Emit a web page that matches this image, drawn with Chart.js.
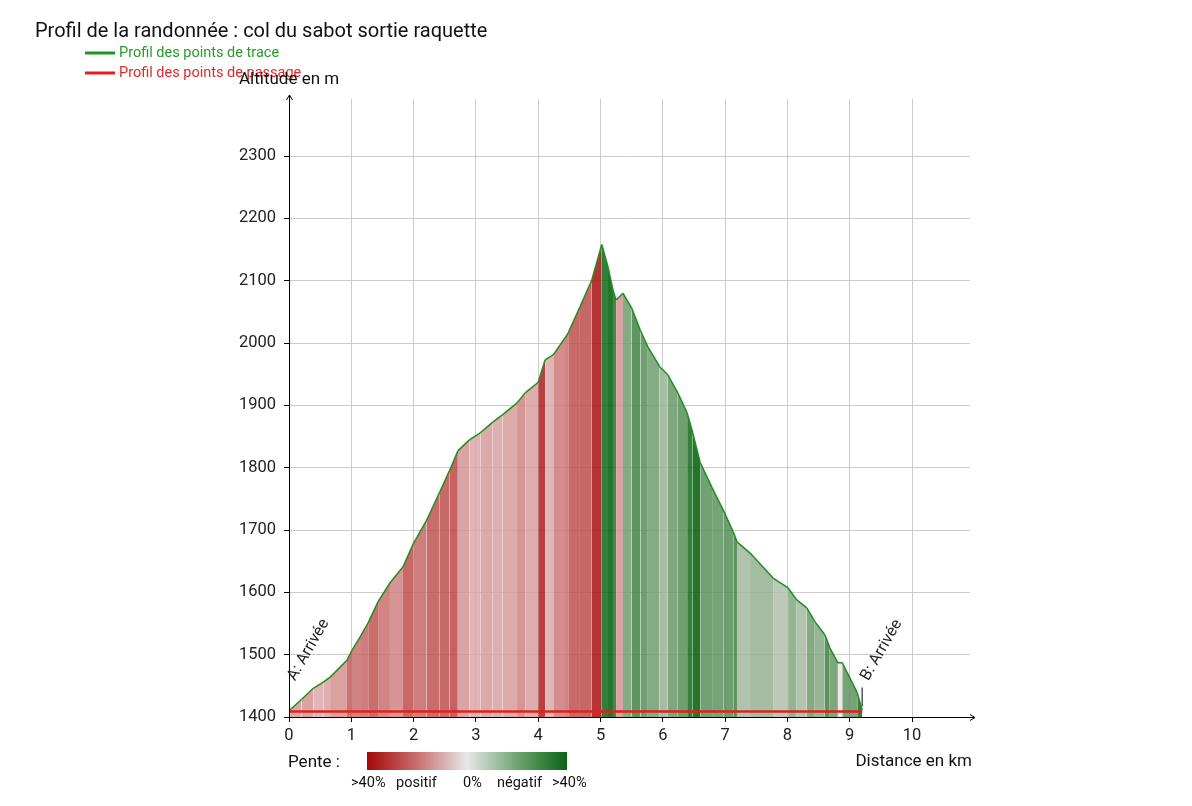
<!DOCTYPE html>
<html><head><meta charset="utf-8">
<script src="https://cdn.jsdelivr.net/npm/chart.js@4.4.1/dist/chart.umd.min.js"></script>
<style>html,body{margin:0;padding:0;background:#fff;overflow:hidden}</style>
</head><body>
<canvas id="c" width="1192" height="806"></canvas>
<script>
const chartTitle = "Profil de la randonnée : col du sabot sortie raquette";
const seriesNames = ["Profil des points de trace", "Profil des points de passage"];
const xAxisTitle = "Distance en km";
const yAxisTitle = "Altitude en m";
const slopeTitle = "Pente :";
const slopeLegend = [">40%", "positif", "0%", "négatif", ">40%"];

// Track profile (distance km, altitude m)
const traceKm  = [0, 0.2, 0.39, 0.55, 0.66, 0.82, 0.93, 1.01, 1.14, 1.27, 1.43, 1.62, 1.83, 2.0, 2.21, 2.42, 2.58, 2.71, 2.9, 3.07, 3.27, 3.43, 3.66, 3.79, 4.0, 4.11, 4.24, 4.43, 4.48, 4.67, 4.86, 5.02, 5.12, 5.2, 5.25, 5.36, 5.5, 5.64, 5.76, 5.95, 6.08, 6.24, 6.39, 6.48, 6.6, 6.79, 6.97, 7.13, 7.19, 7.4, 7.77, 8.01, 8.15, 8.31, 8.44, 8.6, 8.68, 8.81, 8.88, 9.12, 9.2];
const traceAlt = [1410, 1428, 1446, 1456, 1464, 1480, 1491, 1507, 1528, 1551, 1585, 1615, 1641, 1679, 1716, 1761, 1796, 1827, 1845, 1856, 1873, 1885, 1904, 1920, 1937, 1973, 1981, 2008, 2016, 2058, 2101, 2158, 2122, 2085, 2069, 2080, 2056, 2020, 1994, 1962, 1949, 1920, 1888, 1856, 1808, 1768, 1732, 1697, 1681, 1663, 1623, 1607, 1588, 1575, 1553, 1532, 1511, 1487, 1487, 1439, 1411];

// Waypoints (passage points)
const waypointNames = ["A: Arrivée", "B: Arrivée"];
const waypointKm  = [0, 9.2];
const waypointAlt = [1409, 1409];

const xTicks = [0, 1, 2, 3, 4, 5, 6, 7, 8, 9, 10];
const yTicks = [1400, 1500, 1600, 1700, 1800, 1900, 2000, 2100, 2200, 2300];
const xMax = 10.93, yMin = 1400, yMax = 2391.5;

const FONT = "Roboto";

function slopeColor(s) {
  const t = Math.pow(Math.min(Math.abs(s) / 40, 1), 0.75);
  const light = [238, 226, 226];
  const end = s >= 0 ? [165, 0, 0] : [0, 95, 10];
  const c = light.map((v, i) => Math.round(v + (end[i] - v) * t));
  return `rgba(${c[0]},${c[1]},${c[2]},0.86)`;
}

const deco = {
  id: 'deco',
  afterDatasetsDraw(chart) {
    const { ctx, chartArea: a, scales: { x, y } } = chart;
    ctx.save();
    ctx.strokeStyle = '#000';
    ctx.lineWidth = 1;
    const ax = Math.round(a.left) + 0.5, ay = Math.round(a.bottom) + 0.5;
    ctx.beginPath();
    ctx.moveTo(ax, ay); ctx.lineTo(ax, a.top - 4);
    ctx.moveTo(ax - 3, a.top + 1); ctx.lineTo(ax, a.top - 4); ctx.lineTo(ax + 3, a.top + 1);
    ctx.moveTo(ax, ay); ctx.lineTo(a.right + 5, ay);
    ctx.moveTo(a.right, ay - 3); ctx.lineTo(a.right + 5, ay); ctx.lineTo(a.right, ay + 3);
    ctx.stroke();

    // waypoint markers and labels
    ctx.fillStyle = '#222';
    ctx.font = `16px ${FONT}`;
    ctx.textAlign = 'left';
    ctx.textBaseline = 'alphabetic';
    waypointNames.forEach((name, i) => {
      const px = x.getPixelForValue(waypointKm[i]);
      const py = y.getPixelForValue(waypointAlt[i]);
      if (i > 0) {
        ctx.strokeStyle = '#555';
        ctx.lineWidth = 1.5;
        ctx.beginPath();
        ctx.moveTo(px, py - 5); ctx.lineTo(px, py - 24);
        ctx.stroke();
      }
      ctx.save();
      ctx.translate(px + 6, py - 30);
      ctx.rotate(-Math.PI / 3);
      ctx.fillText(name, 0, 0);
      ctx.restore();
    });
    ctx.restore();
  },
  afterDraw(chart) {
    const { ctx } = chart;
    ctx.save();
    ctx.textAlign = 'left';
    ctx.textBaseline = 'alphabetic';
    ctx.fillStyle = '#111';
    ctx.font = `20px ${FONT}`;
    ctx.fillText(chartTitle, 35, 37);

    // legend
    const legCols = ['#1f961f', '#e0201c'];
    const legText = ['#2a9a2a', '#e02a2a'];
    [53, 73].forEach((ly, i) => {
      ctx.strokeStyle = legCols[i];
      ctx.lineWidth = 3;
      ctx.beginPath(); ctx.moveTo(85, ly); ctx.lineTo(115, ly); ctx.stroke();
      ctx.fillStyle = legText[i];
      ctx.font = `14.5px ${FONT}`;
      ctx.fillText(seriesNames[i], 119, ly + 4);
    });

    ctx.fillStyle = '#111';
    ctx.font = `17px ${FONT}`;
    ctx.fillText(yAxisTitle, 239, 84);
    ctx.textAlign = 'right';
    ctx.fillText(xAxisTitle, 972, 766);
    ctx.textAlign = 'left';
    ctx.fillText(slopeTitle, 288, 767);

    // slope gradient bar
    const g = ctx.createLinearGradient(367, 0, 567, 0);
    g.addColorStop(0, 'rgb(165,8,8)');
    g.addColorStop(0.25, 'rgb(200,110,110)');
    g.addColorStop(0.5, 'rgb(232,232,232)');
    g.addColorStop(0.75, 'rgb(110,165,112)');
    g.addColorStop(1, 'rgb(8,100,20)');
    ctx.fillStyle = g;
    ctx.fillRect(367, 752, 200, 18);

    ctx.fillStyle = '#111';
    ctx.font = `14.5px ${FONT}`;
    const lx = [351, 396, 463, 497, 552];
    slopeLegend.forEach((t, i) => ctx.fillText(t, lx[i], 787));
    ctx.restore();
  }
};

new Chart(document.getElementById('c'), {
  type: 'line',
  data: {
    datasets: [
      {
        label: seriesNames[1],
        data: waypointKm.map((k, i) => ({ x: k, y: waypointAlt[i] })),
        borderColor: '#e0201c',
        borderWidth: 2.5,
        pointRadius: 0,
        fill: false,
        order: 1
      },
      {
        label: seriesNames[0],
        data: traceKm.map((k, i) => ({ x: k, y: traceAlt[i] })),
        borderColor: '#1f8f1f',
        borderWidth: 1.5,
        pointRadius: 0,
        tension: 0,
        fill: 'start',
        backgroundColor: 'rgba(230,200,200,0.8)',
        segment: {
          backgroundColor: c => {
            const dx = (c.p1.parsed.x - c.p0.parsed.x) * 1000;
            const dy = c.p1.parsed.y - c.p0.parsed.y;
            return slopeColor(dx > 0 ? dy / dx * 100 : 0);
          }
        },
        order: 2
      }
    ]
  },
  options: {
    responsive: false,
    animation: false,
    events: [],
    layout: { padding: { left: 0, right: 222, top: 99, bottom: 0 } },
    plugins: { legend: { display: false }, tooltip: { enabled: false }, title: { display: false } },
    scales: {
      x: {
        type: 'linear',
        min: 0, max: xMax,
        afterBuildTicks: s => { s.ticks = xTicks.map(v => ({ value: v })); },
        afterFit: s => { s.height = 89; },
        grid: {
          color: c => (c.tick && c.tick.value === 0) ? 'rgba(0,0,0,0)' : '#cccccc',
          lineWidth: 1,
          tickLength: 5,
          tickColor: '#000',
          drawTicks: true
        },
        border: { display: false },
        ticks: { font: { family: FONT, size: 16.5 }, color: '#222', padding: 4, maxRotation: 0, autoSkip: false, callback: v => String(v) }
      },
      y: {
        type: 'linear',
        min: yMin, max: yMax,
        afterBuildTicks: s => { s.ticks = yTicks.map(v => ({ value: v })); },
        afterFit: s => { s.width = 289; },
        grid: {
          color: c => (c.tick && c.tick.value === yMin) ? 'rgba(0,0,0,0)' : '#cccccc',
          lineWidth: 1,
          tickLength: 5,
          tickColor: '#000',
          drawTicks: true
        },
        border: { display: false },
        ticks: { font: { family: FONT, size: 16.5 }, color: '#222', padding: 8, autoSkip: false, callback: v => String(v) }
      }
    }
  },
  plugins: [deco]
});
</script>
</body></html>
